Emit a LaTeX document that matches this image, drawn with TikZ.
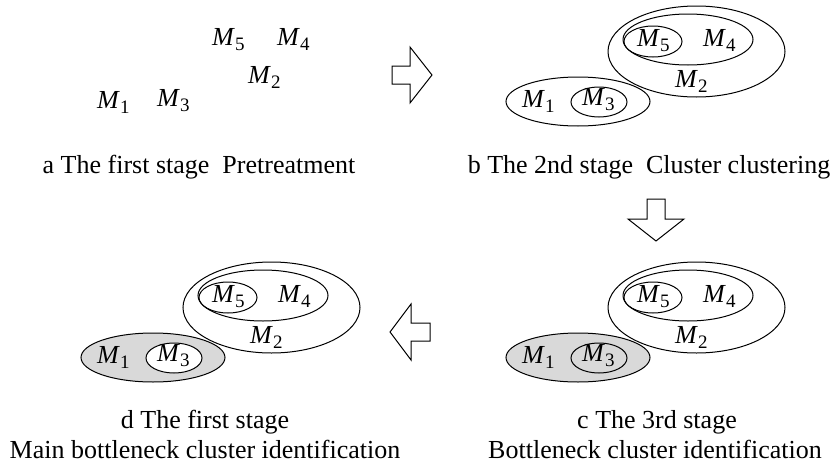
\documentclass[tikz,border=0pt]{standalone}
\usepackage{fontspec}
\setmainfont{Liberation Serif}
\usetikzlibrary{shapes.geometric}
\tikzset{
  clus/.style={draw, ellipse, line width=1pt, inner sep=0pt, outer sep=0pt},
  lab/.style={inner sep=0pt, anchor=base west, font=\fontsize{26}{30}\selectfont},
  captext/.style={inner sep=0pt, anchor=base, font=\fontsize{26}{30}\selectfont},
  flow/.style={draw, line width=1pt, fill=white, line join=miter},
  hl/.style={fill=black!15}
}
\newcommand\Mx[1]{\textit{M}\raisebox{-0.22em}{\fontsize{19}{19}\selectfont #1}}
% #1 prefix, #2 dx, #3 dy, #4 style of group ellipse, #5 style of M3 ellipse
\newcommand\clusterpanel[5]{%
\begin{scope}[shift={(#2,#3)}]
  \node[clus, minimum width=177pt, minimum height=91pt] (#1big) at (696.5,51.5) {};
  \node[clus, minimum width=130pt, minimum height=51pt] (#1mid) at (688,39.5) {};
  \node[clus, minimum width=58pt, minimum height=31pt] (#1mfive) at (653,41.5) {};
  \node[clus, minimum width=144pt, minimum height=49pt, #4] (#1grp) at (578,101.5) {};
  \node[clus, minimum width=56pt, minimum height=30pt, #5] (#1mthree) at (599,102) {};
  \node[lab] (#1lfive) at (637,46) {\Mx{5}};
  \node[lab] (#1lfour) at (703,46) {\Mx{4}};
  \node[lab] (#1ltwo) at (675,87) {\Mx{2}};
  \node[lab] (#1lone) at (522,107) {\Mx{1}};
  \node[lab] (#1lthree) at (582,105) {\Mx{3}};
\end{scope}}
\begin{document}
\begin{tikzpicture}[x=1pt, y=-1pt]
  \useasboundingbox (0,0) rectangle (831,466);
  % panel a
  \node[lab] (afive) at (212,45) {\Mx{5}};
  \node[lab] (afour) at (277,45) {\Mx{4}};
  \node[lab] (atwo) at (248,83) {\Mx{2}};
  \node[lab] (aone) at (97,108) {\Mx{1}};
  \node[lab] (athree) at (157,106) {\Mx{3}};
  \node[captext] (capa) at (199,173) {a The first stage\ \ Pretreatment};
  % panel b
  \clusterpanel{b}{0}{0}{}{}
  \node[captext] (capb) at (649,173) {b The 2nd stage\ \ Cluster clustering};
  % panel c
  \clusterpanel{c}{0}{256}{hl}{}
  \node[captext] (capcone) at (657,428) {c The 3rd stage};
  \node[captext] (capctwo) at (655,458) {Bottleneck cluster identification};
  % panel d
  \clusterpanel{d}{-425}{256}{hl}{fill=white}
  \node[captext] (capdone) at (205,428) {d The first stage};
  \node[captext] (capdtwo) at (205,458) {Main bottleneck cluster identification};
  % flow arrows
  \draw[flow] (392,66) -- (410,66) -- (410,47) -- (432,75) -- (410,103) -- (410,84) -- (392,84) -- cycle;
  \draw[flow] (647,199) -- (665,199) -- (665,219) -- (684,219) -- (656,241) -- (628,219) -- (647,219) -- cycle;
  \draw[flow] (430,323) -- (411,323) -- (411,304) -- (390,332) -- (411,360) -- (411,341) -- (430,341) -- cycle;
\end{tikzpicture}
\end{document}
